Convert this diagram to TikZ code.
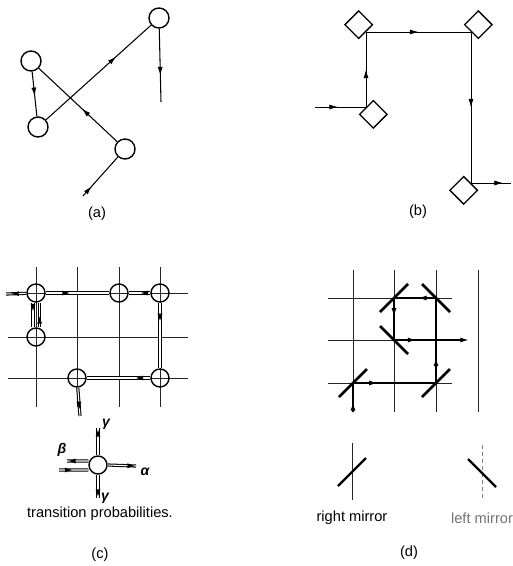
\documentclass[tikz,border=0pt]{standalone}
\usepackage{fontspec}
\setmainfont{Liberation Sans}
\usetikzlibrary{shapes.geometric, arrows.meta, decorations.markings}
\tikzset{
  particle/.style={circle, draw, line width=1.2pt, minimum size=6mm, inner sep=0pt},
  cell/.style={particle, minimum size=5.4mm},
  scatterer/.style={diamond, draw, line width=1.1pt, minimum size=8.4mm, inner sep=0pt},
  track/.style={line width=0.9pt},
  thintrack/.style={line width=0.7pt},
  trail/.style={double, double distance=0.9pt, line width=0.9pt},
  ray/.style={line width=1.2pt},
  midarrow/.style={postaction={decorate}, decoration={markings,
    mark=at position #1 with {\pgfsetinnerlinewidth{0pt}%
      \arrow{Latex[length=2.6mm, width=1.5mm]}}}},
  midarrow/.default=0.5,
  endarrow/.style={-{Latex[length=2.6mm, width=1.5mm]}},
  gridline/.style={line width=0.4pt, black!85},
  mirror/.style={line width=2.4pt},
  caption/.style={font=\fontsize{12.5}{14}\selectfont},
  greek/.style={font=\fontsize{12}{14}\selectfont\bfseries\itshape}
}
\begin{document}
\begin{tikzpicture}[x=0.3mm, y=-0.3mm]
  \useasboundingbox (0,0) rectangle (512,566);

  % (a) free particles
  \node[particle] (a1) at (31,61) {};
  \node[particle] (a2) at (38,127) {};
  \node[particle] (a3) at (159,18) {};
  \node[particle] (a4) at (125,149) {};
  \coordinate (ain) at (83,196);
  \coordinate (aout) at (161,102);
  \draw[track, midarrow=0.55] (a1) -- (a2);
  \draw[track, midarrow=0.67] (a2) -- (a3);
  \draw[track, midarrow=0.45] (a4) -- (a1);
  \draw[track, midarrow=0.64] (a3) -- (aout);
  \draw[track, midarrow=0.25] (ain) -- (a4);
  \node[caption] (capa) at (97,214) {(a)};

  % (b) scatterers
  \node[scatterer, anchor=north west] (b3) at (366,107) {};
  \node[scatterer, anchor=south east] (b1) at (366,32) {};
  \node[scatterer, anchor=south west] (b2) at (471,32) {};
  \node[scatterer, anchor=north east] (b4) at (471,183) {};
  \coordinate (bin) at (315,107);
  \coordinate (bout) at (511,183);
  \draw[thintrack, midarrow=0.45] (bin) -- (b3.north west);
  \draw[thintrack, midarrow] (b3.north west) -- (b1.south east);
  \draw[thintrack, midarrow] (b1.south east) -- (b2.south west);
  \draw[thintrack, midarrow] (b2.south west) -- (b4.north east);
  \draw[thintrack, midarrow=0.8] (b4.north east) -- (bout);
  \node[caption] (capb) at (418,212) {(b)};

  % (c) lattice gas
  \foreach \gx in {36,77,119,160}
    \draw[gridline] (\gx,267) -- (\gx,407);
  \foreach \gy in {293,337,378}
    \draw[gridline] (8,\gy) -- (188,\gy);
  \node[cell] (c1) at (36,293) {};
  \node[cell] (c2) at (119,293) {};
  \node[cell] (c3) at (160,293) {};
  \node[cell] (c4) at (36,337) {};
  \node[cell] (c5) at (77,378) {};
  \node[cell] (c6) at (160,378) {};
  \coordinate (cout1) at (6,294);
  \coordinate (cout2) at (80,416);
  \draw[trail, midarrow=0.8] (c1) -- (cout1);
  \draw[trail, midarrow=0.4] (c1) -- (c2);
  \draw[trail, midarrow] (c3) -- (c2);
  \draw[trail, midarrow=0.3] (c3) -- (c6);
  \draw[trail, midarrow=0.25] (c6) -- (c5);
  \draw[trail, midarrow=0.8] (c5) -- (cout2);
  \draw[trail, midarrow=0.4] ([xshift=-0.9mm]c1.south) -- ([xshift=-0.9mm]c4.north);
  \draw[trail, midarrow=0.5] ([xshift=1.1mm]c4.north) -- ([xshift=1.1mm]c1.south);

  % transition probabilities
  \node[cell] (t) at (98,465) {};
  \coordinate (tin) at (59,470);
  \coordinate (tb) at (67,461);
  \coordinate (ta) at (136,466);
  \coordinate (tu) at (98,428);
  \coordinate (td) at (98,498);
  \draw[trail, midarrow] (tin) -- ([yshift=-1.5mm]t.west);
  \draw[trail, midarrow=1] ([yshift=1.2mm]t.west) -- (tb);
  \draw[trail, midarrow=1] (t.east) -- (ta);
  \draw[trail, midarrow=1] (t.north) -- (tu);
  \draw[trail, midarrow=1] (t.south) -- (td);
  \node[greek] (lb) at (62,450) {β};
  \node[greek] (la) at (145,472) {α};
  \node[greek] (lgu) at (106,424) {γ};
  \node[greek] (lgd) at (105,498) {γ};
  \node[caption] (ctp) at (100,514) {transition probabilities.};
  \node[caption] (capc) at (100,555) {(c)};

  % (d) mirrors
  \foreach \gx in {353,394,436,478}
    \draw[gridline] (\gx,270) -- (\gx,412);
  \foreach \gy in {298,340,383}
    \draw[gridline] (328,\gy) -- (452,\gy);
  \coordinate (m1) at (394,298);
  \coordinate (m2) at (436,298);
  \coordinate (m3) at (394,340);
  \coordinate (m4) at (353,383);
  \coordinate (m5) at (436,383);
  \draw[mirror] (m1) ++(-14,14) -- ++(28,-28);
  \draw[mirror] (m2) ++(-14,-14) -- ++(28,28);
  \draw[mirror] (m3) ++(-14,-14) -- ++(28,28);
  \draw[mirror] (m4) ++(-14,14) -- ++(28,-28);
  \draw[mirror] (m5) ++(-14,14) -- ++(28,-28);
  \coordinate (din) at (353,412);
  \coordinate (dout) at (469,340);
  \draw[ray, midarrow=0.35] (din) -- (m4);
  \draw[ray, midarrow=0.3] (m4) -- (m5);
  \draw[ray, midarrow=0.3] (m5) -- (m2);
  \draw[ray, midarrow=0.43] (m2) -- (m1);
  \draw[ray, midarrow=0.45] (m1) -- (m3);
  \draw[ray, midarrow=0.3, endarrow] (m3) -- (dout);

  % mirror legend
  \coordinate (rm) at (352,472);
  \coordinate (lm) at (482,473);
  \draw[gridline] (352,443) -- (352,500);
  \draw[gridline, black!50, dashed] (482,445) -- (482,500);
  \draw[mirror, line width=2pt] (rm) ++(-14,14) -- ++(28,-28);
  \draw[mirror, line width=2pt] (lm) ++(-14,-14) -- ++(28,28);
  \node[caption] (crm) at (352,518) {right mirror};
  \node[caption, black!55] (clm) at (482,518) {left mirror};
  \node[caption] (capd) at (409,553) {(d)};
\end{tikzpicture}
\end{document}
